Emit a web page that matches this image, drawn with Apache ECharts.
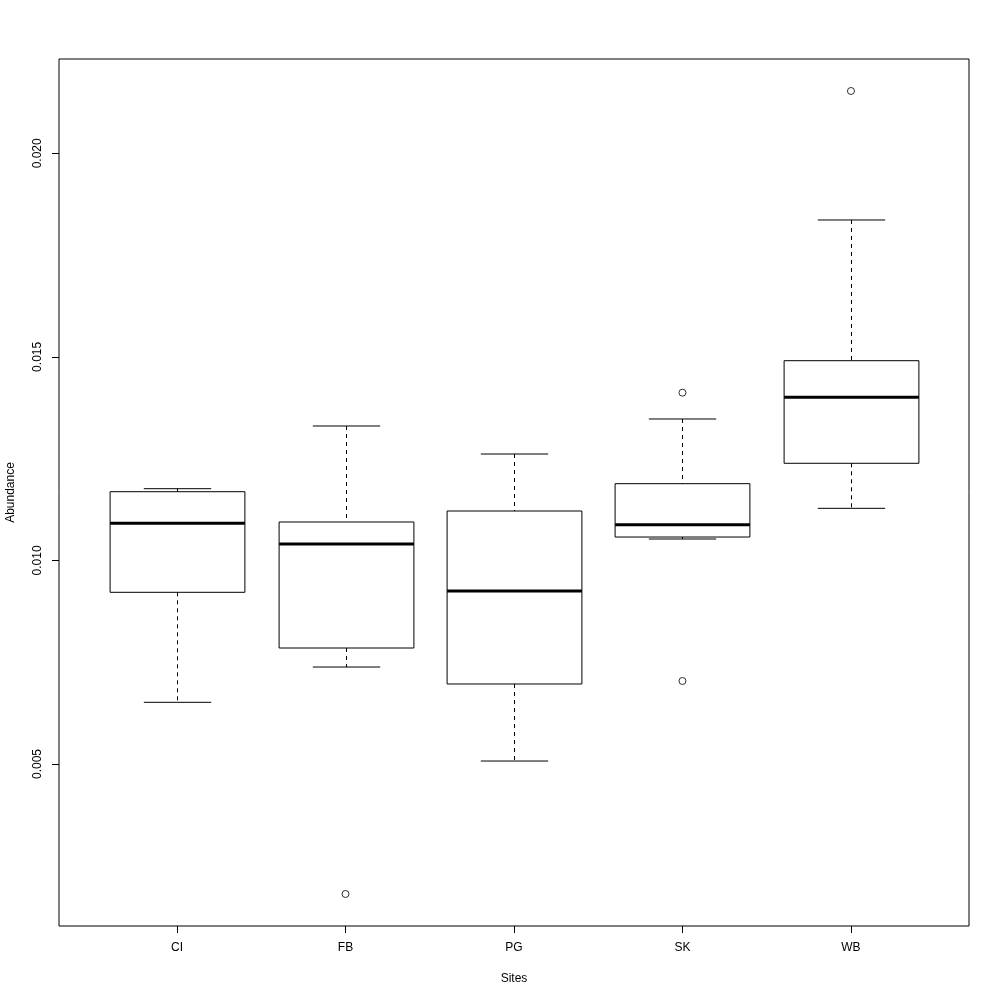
<!DOCTYPE html>
<html>
<head>
<meta charset="utf-8">
<script src="https://cdn.jsdelivr.net/npm/echarts@6/dist/echarts.min.js"></script>
<style>html,body{margin:0;padding:0;background:#fff;}#chart{width:1000px;height:1000px;}</style>
</head>
<body>
<div id="chart"></div>
<script>
// Data
var sites = ['CI', 'FB', 'PG', 'SK', 'WB'];
var lowerWhisker = [0.006515, 0.007382, 0.005073, 0.010526, 0.011280];
var q1Values     = [0.009217, 0.007849, 0.006965, 0.010575, 0.012386];
var medians      = [0.010912, 0.010403, 0.009249, 0.010878, 0.014007];
var q3Values     = [0.011688, 0.010944, 0.011214, 0.011885, 0.014906];
var upperWhisker = [0.011762, 0.013302, 0.012614, 0.013474, 0.018362];
var outlierSites  = ['FB', 'SK', 'SK', 'WB'];
var outlierValues = [0.001807, 0.014120, 0.007039, 0.021530];
var yTicks = [0.005, 0.010, 0.015, 0.020];
var yMin = 0.001021, yMax = 0.022316;

var boxData = sites.map(function (s, i) {
  return [i, lowerWhisker[i], q1Values[i], medians[i], q3Values[i], upperWhisker[i]];
});
var outlierData = outlierSites.map(function (s, i) { return [s, outlierValues[i]]; });

var FONT = 'Liberation Sans, Arial, Helvetica, sans-serif';
var chart = echarts.init(document.getElementById('chart'), null, {renderer: 'canvas'});

function renderBox(params, api) {
  var idx = api.value(0);
  var band = api.size([1, 0])[0];
  var hw = band * 0.4, cw = band * 0.2;
  var pLo = api.coord([idx, api.value(1)]);
  var pQ1 = api.coord([idx, api.value(2)]);
  var pMed = api.coord([idx, api.value(3)]);
  var pQ3 = api.coord([idx, api.value(4)]);
  var pHi = api.coord([idx, api.value(5)]);
  var x = Math.round(pMed[0]) + 0.5;
  var solid = {stroke: '#000', lineWidth: 1, fill: null};
  var dashed = {stroke: '#000', lineWidth: 1, lineDash: [4, 4]};
  return {
    type: 'group',
    children: [
      {type: 'line', shape: {x1: x, y1: pHi[1], x2: x, y2: pQ3[1]}, style: dashed},
      {type: 'line', shape: {x1: x, y1: pQ1[1], x2: x, y2: pLo[1]}, style: dashed},
      {type: 'line', shape: {x1: x - cw, y1: pHi[1], x2: x + cw, y2: pHi[1]}, style: solid},
      {type: 'line', shape: {x1: x - cw, y1: pLo[1], x2: x + cw, y2: pLo[1]}, style: solid},
      {type: 'rect', shape: {x: x - hw, y: pQ3[1], width: 2 * hw, height: pQ1[1] - pQ3[1]},
        style: {stroke: '#000', lineWidth: 1, fill: 'rgba(255,255,255,0)'}},
      {type: 'line', shape: {x1: x - hw, y1: pMed[1], x2: x + hw, y2: pMed[1]},
        style: {stroke: '#000', lineWidth: 3}}
    ]
  };
}

var option = {
  animation: false,
  backgroundColor: '#fff',
  textStyle: {fontFamily: FONT},
  grid: [
    {left: 59, top: 59, width: 910, height: 867, show: true, borderColor: '#000', borderWidth: 1,
      backgroundColor: 'transparent', containLabel: false, outerBoundsMode: 'none'},
    {left: 92.8, top: 59, width: 842.4, height: 867, containLabel: false, outerBoundsMode: 'none'}
  ],
  xAxis: [
    {gridIndex: 0, type: 'value', min: 0, max: 1, show: false},
    {
      gridIndex: 1, type: 'category', data: sites,
      name: 'Sites', nameLocation: 'middle', nameGap: 47,
      nameTextStyle: {color: '#000', fontSize: 12, fontFamily: FONT},
      axisLine: {show: false},
      axisTick: {show: true, alignWithLabel: true, length: 7, lineStyle: {color: '#000'}},
      axisLabel: {color: '#000', fontSize: 12, fontFamily: FONT, margin: 16},
      splitLine: {show: false}
    }
  ],
  yAxis: [
    {
      gridIndex: 0, type: 'value', min: yMin, max: yMax,
      name: 'Abundance', nameLocation: 'middle', nameGap: 42, nameRotate: 90,
      nameTextStyle: {color: '#000', fontSize: 12, fontFamily: FONT},
      axisLine: {show: false},
      axisTick: {show: true, length: 7, customValues: yTicks, lineStyle: {color: '#000'}},
      axisLabel: {show: true, rotate: 90, margin: 15, color: '#000', fontSize: 12, fontFamily: FONT,
        customValues: yTicks, formatter: function (v) { return v.toFixed(3); }},
      splitLine: {show: false}
    },
    {gridIndex: 1, type: 'value', min: yMin, max: yMax, show: false}
  ],
  series: [
    {
      type: 'custom', xAxisIndex: 1, yAxisIndex: 1,
      renderItem: renderBox,
      encode: {x: 0, y: [1, 2, 3, 4, 5]},
      data: boxData
    },
    {
      type: 'scatter', xAxisIndex: 1, yAxisIndex: 1,
      symbol: 'circle', symbolSize: 7,
      itemStyle: {color: '#fff', borderColor: '#000', borderWidth: 1},
      data: outlierData
    }
  ]
};
chart.setOption(option);
</script>
</body>
</html>
